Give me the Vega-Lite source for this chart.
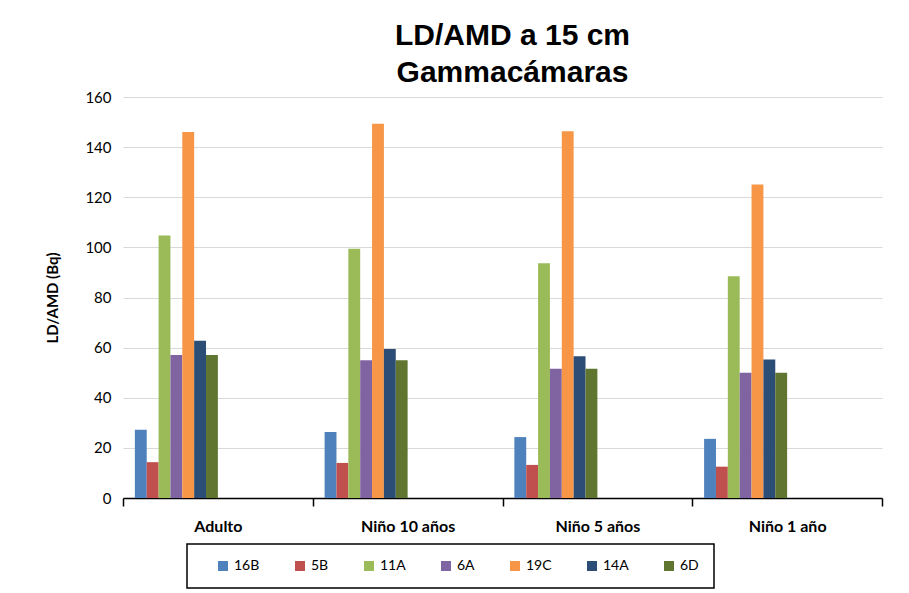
{
  "$schema": "https://vega.github.io/schema/vega-lite/v6.json",
  "autosize": {"type": "none"},
  "width": 759,
  "height": 401,
  "padding": {"left": 123, "top": 97, "right": 27, "bottom": 95},
  "background": "white",
  "title": {
    "text": ["LD/AMD a 15 cm", "Gammacámaras"],
    "font": "Liberation Sans",
    "fontSize": 30,
    "fontWeight": "bold",
    "lineHeight": 37,
    "color": "black",
    "anchor": "middle",
    "frame": "group",
    "offset": 2,
    "dx": 10
  },
  "config": {
    "view": {"stroke": null},
    "font": "Lato"
  },
  "data": {
    "values": [
      {"g": "Adulto", "s": "16B", "v": 27.2},
      {"g": "Adulto", "s": "5B", "v": 14.3},
      {"g": "Adulto", "s": "11A", "v": 104.7},
      {"g": "Adulto", "s": "6A", "v": 57.1},
      {"g": "Adulto", "s": "19C", "v": 146.0},
      {"g": "Adulto", "s": "14A", "v": 62.7},
      {"g": "Adulto", "s": "6D", "v": 57.1},
      {"g": "Niño 10 años", "s": "16B", "v": 26.3},
      {"g": "Niño 10 años", "s": "5B", "v": 14.0},
      {"g": "Niño 10 años", "s": "11A", "v": 99.5},
      {"g": "Niño 10 años", "s": "6A", "v": 55.0},
      {"g": "Niño 10 años", "s": "19C", "v": 149.3},
      {"g": "Niño 10 años", "s": "14A", "v": 59.5},
      {"g": "Niño 10 años", "s": "6D", "v": 55.0},
      {"g": "Niño 5 años", "s": "16B", "v": 24.3},
      {"g": "Niño 5 años", "s": "5B", "v": 13.2},
      {"g": "Niño 5 años", "s": "11A", "v": 93.7},
      {"g": "Niño 5 años", "s": "6A", "v": 51.6},
      {"g": "Niño 5 años", "s": "19C", "v": 146.3},
      {"g": "Niño 5 años", "s": "14A", "v": 56.6},
      {"g": "Niño 5 años", "s": "6D", "v": 51.6},
      {"g": "Niño 1 año", "s": "16B", "v": 23.6},
      {"g": "Niño 1 año", "s": "5B", "v": 12.5},
      {"g": "Niño 1 año", "s": "11A", "v": 88.5},
      {"g": "Niño 1 año", "s": "6A", "v": 50.0},
      {"g": "Niño 1 año", "s": "19C", "v": 125.1},
      {"g": "Niño 1 año", "s": "14A", "v": 55.3},
      {"g": "Niño 1 año", "s": "6D", "v": 50.0}
    ]
  },
  "mark": {"type": "bar"},
  "encoding": {
    "x": {
      "field": "g",
      "type": "nominal",
      "sort": ["Adulto", "Niño 10 años", "Niño 5 años", "Niño 1 año"],
      "scale": {"paddingInner": 0, "paddingOuter": 0},
      "axis": {
        "title": null,
        "labelAngle": 0,
        "labelFont": "Lato",
        "labelFontSize": 16,
        "labelFontWeight": "bold",
        "labelColor": "black",
        "labelPadding": 12,
        "tickBand": "extent",
        "tickColor": "black",
        "tickSize": 8,
        "tickWidth": 1.5,
        "domainColor": "black",
        "domainWidth": 1.5,
        "grid": false
      }
    },
    "xOffset": {
      "field": "s",
      "type": "nominal",
      "scale": {
        "domain": ["16B", "5B", "11A", "6A", "19C", "14A", "6D", "e1", "e2", "e3", "e4", "e5", "e6", "e7"],
        "paddingInner": 0,
        "paddingOuter": 1.1
      }
    },
    "y": {
      "field": "v",
      "type": "quantitative",
      "scale": {"domain": [0, 160], "nice": false},
      "axis": {
        "title": "LD/AMD (Bq)",
        "titleFont": "Lato",
        "titleFontSize": 15,
        "titleFontWeight": "bold",
        "titleColor": "black",
        "titlePadding": 24,
        "values": [0, 20, 40, 60, 80, 100, 120, 140, 160],
        "labelFont": "Lato",
        "labelFontSize": 15,
        "labelColor": "black",
        "labelPadding": 12,
        "ticks": false,
        "domain": false,
        "grid": true,
        "gridColor": "#D9D9D9",
        "gridWidth": 1
      }
    },
    "color": {
      "field": "s",
      "type": "nominal",
      "scale": {
        "domain": ["16B", "5B", "11A", "6A", "19C", "14A", "6D"],
        "range": ["#4F81BD", "#C0504D", "#9BBB59", "#8064A2", "#F79646", "#2C4D75", "#5F7530"]
      },
      "legend": {
        "title": "\u00a0",
        "titleOrient": "left",
        "titlePadding": 14,
        "titleFontSize": 14,
        "orient": "none",
        "legendX": 64,
        "legendY": 447,
        "direction": "horizontal",
        "columns": 7,
        "gridAlign": "none",
        "symbolType": "square",
        "symbolSize": 100,
        "symbolStrokeWidth": 0,
        "labelFont": "Lato",
        "labelFontSize": 14,
        "labelColor": "black",
        "labelOffset": 4,
        "columnPadding": 33,
        "padding": 15,
        "strokeColor": "black",
        "encode": {"legend": {"update": {"strokeWidth": {"value": 1.5}}}}
      }
    }
  }
}
